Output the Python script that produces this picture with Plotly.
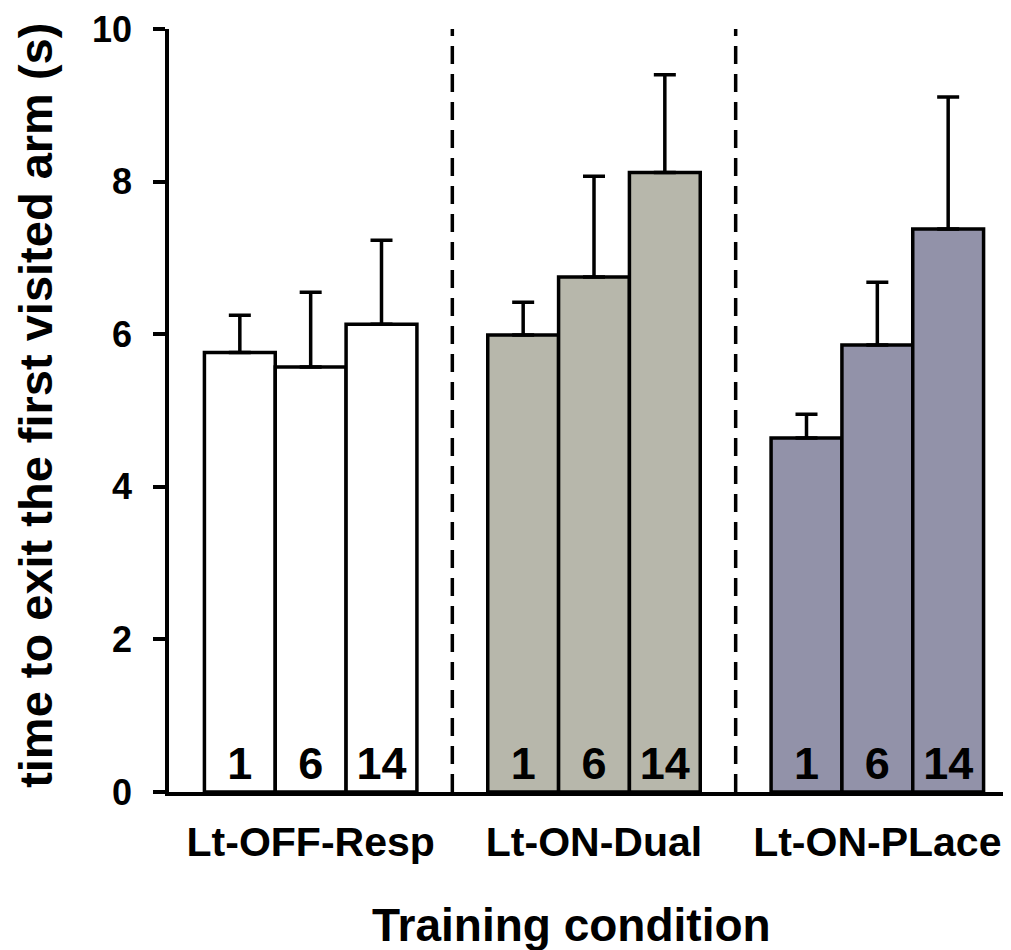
import plotly.graph_objects as go

groups = ["Lt-OFF-Resp", "Lt-ON-Dual", "Lt-ON-PLace"]
days = ["1", "6", "14"]
day1 = [5.76, 5.99, 4.64]
day1_err = [0.49, 0.43, 0.31]
day6 = [5.57, 6.75, 5.86]
day6_err = [0.98, 1.32, 0.82]
day14 = [6.13, 8.12, 7.38]
day14_err = [1.10, 1.28, 1.73]
group_colors = ["#FFFFFF", "#B7B7AB", "#9292A9"]
y_ticks = [0, 2, 4, 6, 8, 10]

FONT = "Liberation Sans, Arial, sans-serif"

fig = go.Figure()
for d, vals, errs in [(days[0], day1, day1_err), (days[1], day6, day6_err), (days[2], day14, day14_err)]:
    fig.add_trace(go.Bar(
        x=groups, y=vals, name=d,
        marker=dict(color=group_colors, line=dict(color="black", width=3.5)),
        error_y=dict(type="data", symmetric=False, array=errs, arrayminus=[0] * len(errs),
                     color="black", thickness=3.5, width=11),
        text=[d] * len(vals), textposition="inside", insidetextanchor="start",
        textangle=0, constraintext="none",
        textfont=dict(family=FONT, size=45, color="black", weight="bold"),
        showlegend=False,
    ))

for xv in [0.5, 1.5]:
    fig.add_shape(type="line", xref="x", yref="y", x0=xv, x1=xv, y0=0, y1=10,
                  line=dict(color="black", width=3.5, dash="18px,10px"))

fig.add_annotation(text="Training condition", xref="paper", yref="paper",
                   x=0.474, y=-0.174, xanchor="center", yanchor="middle", showarrow=False,
                   font=dict(family=FONT, size=46, color="black", weight="bold"))
fig.add_annotation(text="time to exit the first visited arm (s)", xref="paper", yref="paper",
                   x=-0.158, y=0.507, xanchor="center", yanchor="middle", showarrow=False,
                   textangle=-90,
                   font=dict(family=FONT, size=47, color="black", weight="bold"))

fig.update_layout(
    width=1011, height=950,
    margin=dict(l=161, r=0, t=21, b=166),
    paper_bgcolor="white", plot_bgcolor="white",
    barmode="group", bargap=0.25, bargroupgap=0,
    font=dict(family=FONT, color="black"),
)
fig.update_xaxes(
    type="category", range=[-0.5, 2.5],
    showline=True, linecolor="black", linewidth=3.5,
    ticks="", showgrid=False, zeroline=False,
    tickfont=dict(family=FONT, size=41, color="black", weight="bold"),
    ticklabelstandoff=11,
)
fig.update_yaxes(
    range=[0, 10], tickvals=y_ticks,
    showline=True, linecolor="black", linewidth=3.5,
    ticks="outside", ticklen=12, tickwidth=3.5, tickcolor="black",
    showgrid=False, zeroline=False,
    tickfont=dict(family=FONT, size=36, color="black", weight="bold"),
    ticklabelstandoff=14,
)

fig.write_html("out.html")
